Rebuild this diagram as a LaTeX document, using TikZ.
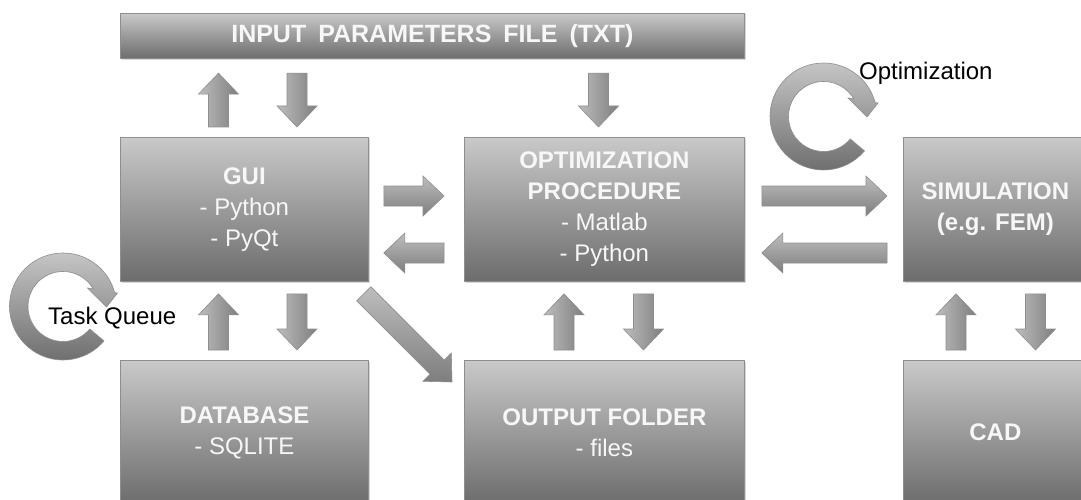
\documentclass[tikz,border=0pt]{standalone}
\usepackage{fontspec}
\setmainfont{Liberation Sans}
\usetikzlibrary{calc,shadows}
\definecolor{boxtop}{HTML}{C9C9C9}
\definecolor{boxbot}{HTML}{6C6C6C}
\definecolor{boxline}{HTML}{8E8E8E}
\definecolor{arrlight}{HTML}{BDBDBD}
\definecolor{arrdark}{HTML}{7E7E7E}
\definecolor{txtwhite}{HTML}{F7F7F7}
\definecolor{cyctop}{HTML}{CACACA}
\definecolor{cycbot}{HTML}{6A6A6A}
\newcommand\blockarrow[3][]{%
  \coordinate (bA) at (#2);
  \coordinate (bB) at (#3);
  \coordinate (bH) at ($(bB)!21pt!(bA)$);
  \path[barrow,#1] ($(bA)!10pt!90:(bB)$) -- ($(bH)!10pt!90:(bB)$) -- ($(bH)!20pt!90:(bB)$) -- (bB)
     -- ($(bH)!20pt!-90:(bB)$) -- ($(bH)!10pt!-90:(bB)$) -- ($(bA)!10pt!-90:(bB)$) -- cycle;}
\newcommand\cyclearrow[1]{%
  \path[cyc] ($(#1)+(40:53.5)$) arc[start angle=40, end angle=345, radius=53.5]
     -- ($(#1)+(54.5,-13.5)$) -- ($(#1)+(43.5,0.5)$) -- ($(#1)+(24.5,-18.5)$)
     -- ($(#1)+(330:35)$) arc[start angle=330, end angle=40, radius=35] -- cycle;}
\begin{document}
\begin{tikzpicture}[x=1pt,y=-1pt,
  box/.style={draw=boxline, line width=0.8pt, top color=boxtop, bottom color=boxbot,
    text=txtwhite, font=\fontsize{24}{31}\selectfont, align=center, inner sep=0pt,
    anchor=north west,
    drop shadow={shadow xshift=1.2pt, shadow yshift=-1.2pt, opacity=.3}},
  barrow/.style={draw=boxline, line width=0.6pt, top color=arrlight, bottom color=arrdark},
  varrow/.style={left color=arrlight, right color=arrdark},
  darrow/.style={shading=axis, shading angle=45, top color=arrlight, bottom color=arrdark},
  cyc/.style={draw=boxline, line width=0.6pt, top color=cyctop, bottom color=cycbot},
  lbl/.style={text=black, font=\fontsize{24}{28}\selectfont, inner sep=0pt, anchor=base west}]
\useasboundingbox (0,0) rectangle (1081,500);
\clip (0,0) rectangle (1081,500);
\fill[white] (0,0) rectangle (1081,500);

% boxes
\node[box, minimum width=624pt, minimum height=45.6pt, font=\bfseries\fontsize{25}{30}\selectfont] (inp) at (120,12.7)
  {INPUT\hspace{12pt}PARAMETERS\hspace{12pt}FILE\hspace{12pt}(TXT)};
\node[box, minimum width=248pt, minimum height=144pt] (gui) at (120,137)
  {{\bfseries GUI}\\- Python\\- PyQt};
\node[box, minimum width=280pt, minimum height=144pt] (opt) at (464,137)
  {{\bfseries OPTIMIZATION}\\{\bfseries PROCEDURE}\\- Matlab\\- Python};
\node[box, minimum width=184pt, minimum height=144pt] (sim) at (903,137)
  {{\bfseries SIMULATION}\\{\bfseries (e.g. FEM)}};
\node[box, minimum width=248pt, minimum height=144pt] (db) at (120,360)
  {{\bfseries DATABASE}\\- SQLITE};
\node[box, minimum width=280pt, minimum height=144pt] (out) at (464,360)
  {{\bfseries OUTPUT FOLDER}\\- files};
\node[box, minimum width=184pt, minimum height=144pt] (cad) at (903,360)
  {{\bfseries CAD}};

% block arrows: input file <-> GUI, input file -> optimization
\blockarrow[varrow]{$(gui.north west)+(98.5,-10)$}{$(inp.south west)+(98.5,14)$}
\blockarrow[varrow]{$(inp.south west)+(177,14)$}{$(gui.north west)+(177,-10)$}
\blockarrow[varrow]{$(inp.south west)+(478.5,14)$}{$(opt.north west)+(134.5,-10)$}
% GUI <-> optimization
\blockarrow{$(gui.north east)+(15,59)$}{$(opt.north west)+(-20,59)$}
\blockarrow{$(opt.north west)+(-20,116)$}{$(gui.north east)+(15,116)$}
% optimization <-> simulation
\blockarrow{$(opt.north east)+(17,59)$}{$(sim.north west)+(-16,59)$}
\blockarrow{$(sim.north west)+(-16,116)$}{$(opt.north east)+(17,116)$}
% GUI <-> database
\blockarrow[varrow]{$(db.north west)+(98.5,-10)$}{$(gui.south west)+(98.5,12)$}
\blockarrow[varrow]{$(gui.south west)+(177,12)$}{$(db.north west)+(177,-10)$}
% optimization <-> output folder
\blockarrow[varrow]{$(out.north west)+(100,-10)$}{$(opt.south west)+(100,12)$}
\blockarrow[varrow]{$(opt.south west)+(179.5,12)$}{$(out.north west)+(179.5,-10)$}
% simulation <-> CAD
\blockarrow[varrow]{$(cad.north west)+(53,-10)$}{$(sim.south west)+(53,12)$}
\blockarrow[varrow]{$(sim.south west)+(132.5,12)$}{$(cad.north west)+(132.5,-10)$}
% GUI -> output folder
\blockarrow[darrow]{$(gui.south east)+(-5,12)$}{$(out.north west)+(-12,22)$}

% cycle arrows
\coordinate (optloop) at (823.5,116.5);
\coordinate (tqloop) at (63,306.5);
\cyclearrow{optloop}
\cyclearrow{tqloop}
\node[lbl] (optlbl) at (859,80) {Optimization};
\node[lbl] (tqlbl) at (48,324) {Task Queue};
\end{tikzpicture}
\end{document}
